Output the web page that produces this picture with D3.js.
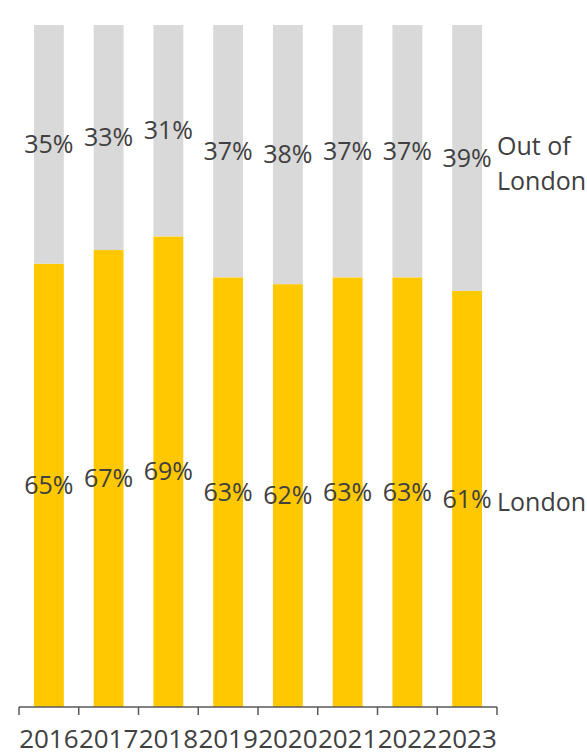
<!DOCTYPE html>
<html>
<head>
<meta charset="utf-8">
<script src="https://cdn.jsdelivr.net/npm/d3@7"></script>
<style>
  html, body { margin: 0; padding: 0; background: #ffffff; }
  svg { display: block; }
  text { font-family: "Open Sans", sans-serif; fill: #404040; }
</style>
</head>
<body>
<svg id="chart" width="587" height="756"></svg>
<script>
// Share of staff by location, per year
const years = ["2016", "2017", "2018", "2019", "2020", "2021", "2022", "2023"];
const london = [65, 67, 69, 63, 62, 63, 63, 61];
const outOfLondon = [35, 33, 31, 37, 38, 37, 37, 39];
const seriesNames = ["London", "Out of London"];
const colours = ["#FFC800", "#D9D9D9"];

const svg = d3.select("#chart");
const plotLeft = 19, plotRight = 497, plotTop = 25, plotBottom = 707;

const x = d3.scaleBand().domain(years).range([plotLeft, plotRight])
  .paddingInner(0.5).paddingOuter(0.25);
const y = d3.scaleLinear().domain([0, 100]).range([plotBottom, plotTop]);

const rows = years.map((yr, i) => ({ year: yr, london: london[i], out: outOfLondon[i] }));
const stack = d3.stack().keys(["london", "out"]);
const layers = stack(rows);

const g = svg.append("g");
layers.forEach((layer, li) => {
  g.append("g").selectAll("rect").data(layer).join("rect")
    .attr("x", d => x(d.data.year))
    .attr("width", x.bandwidth())
    .attr("y", d => y(d[1]))
    .attr("height", d => y(d[0]) - y(d[1]))
    .attr("fill", colours[li]);
});

// value labels centred in each segment
layers.forEach(layer => {
  g.append("g").selectAll("text").data(layer).join("text")
    .attr("x", d => x(d.data.year) + x.bandwidth() / 2)
    .attr("y", d => (y(d[0]) + y(d[1])) / 2)
    .attr("dy", "0.35em")
    .attr("text-anchor", "middle")
    .style("font-size", "25px")
    .text(d => (d[1] - d[0]) + "%");
});

// series names to the right of the last bar
const last = rows.length - 1;
const lx = plotRight;
const lastLondon = layers[0][last];
const lastOut = layers[1][last];
svg.append("text")
  .attr("x", lx).attr("y", (y(lastLondon[0]) + y(lastLondon[1])) / 2 + 3)
  .attr("dy", "0.35em")
  .style("font-size", "25px")
  .text(seriesNames[0]);
const outLabel = svg.append("text")
  .attr("x", lx).attr("y", (y(lastOut[0]) + y(lastOut[1])) / 2 + 6)
  .style("font-size", "25px");
outLabel.append("tspan").attr("x", lx).attr("dy", "-0.35em").text("Out of");
outLabel.append("tspan").attr("x", lx).attr("dy", "1.4em").text("London");

// category axis with ticks between bars
const axis = svg.append("g").attr("transform", `translate(0,${plotBottom})`);
axis.call(d3.axisBottom(x).tickSize(0).tickPadding(23))
  .call(a => a.select(".domain").remove())
  .selectAll("text")
  .style("font-size", "26px")
  .style("font-family", "'Open Sans', sans-serif")
  .attr("fill", "#404040");
const edges = d3.range(years.length + 1).map(i => plotLeft + i * x.step());
axis.append("line").attr("x1", plotLeft).attr("x2", plotRight)
  .attr("stroke", "#595959").attr("stroke-width", 1.5);
axis.selectAll("line.tick-mark").data(edges).join("line")
  .attr("class", "tick-mark")
  .attr("x1", d => d).attr("x2", d => d)
  .attr("y1", 0).attr("y2", 8)
  .attr("stroke", "#595959").attr("stroke-width", 1.5);
</script>
</body>
</html>
